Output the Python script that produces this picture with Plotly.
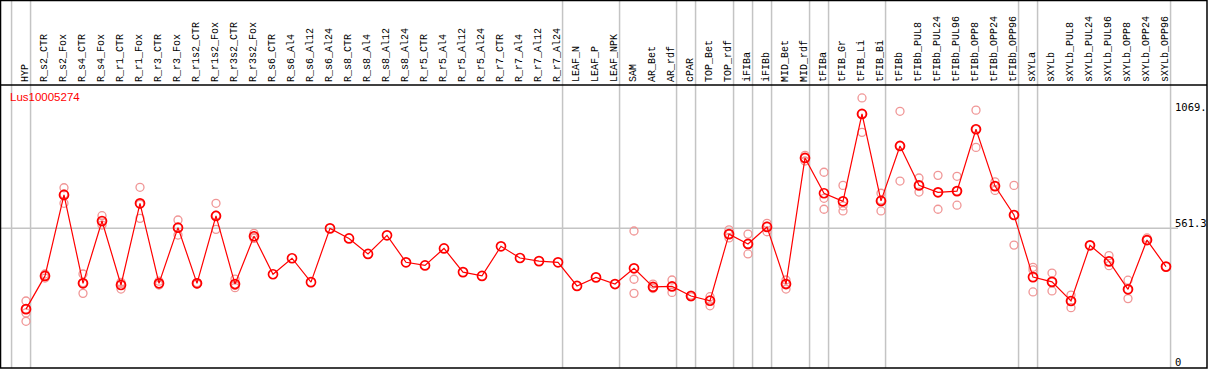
import plotly.graph_objects as go

title = "Lus10005274"

categories = ["HYP", "R_s2_CTR", "R_s2_Fox", "R_s4_CTR", "R_s4_Fox", "R_r1_CTR", "R_r1_Fox",
              "R_r3_CTR", "R_r3_Fox", "R_r1s2_CTR", "R_r1s2_Fox", "R_r3s2_CTR", "R_r3s2_Fox",
              "R_s6_CTR", "R_s6_Al4", "R_s6_Al12", "R_s6_Al24", "R_s8_CTR", "R_s8_Al4",
              "R_s8_Al12", "R_s8_Al24", "R_r5_CTR", "R_r5_Al4", "R_r5_Al12", "R_r5_Al24",
              "R_r7_CTR", "R_r7_Al4", "R_r7_Al12", "R_r7_Al24", "LEAF_N", "LEAF_P", "LEAF_NPK",
              "SAM", "AR_Bet", "AR_rdf", "cPAR", "TOP_Bet", "TOP_rdf", "iFIBa", "iFIBb",
              "MID_Bet", "MID_rdf", "tFIBa", "tFIB_Gr", "tFIB_Li", "tFIB_Bi", "tFIBb",
              "tFIBb_PUL8", "tFIBb_PUL24", "tFIBb_PUL96", "tFIBb_OPP8", "tFIBb_OPP24",
              "tFIBb_OPP96", "sXYLa", "sXYLb", "sXYLb_PUL8", "sXYLb_PUL24", "sXYLb_PUL96",
              "sXYLb_OPP8", "sXYLb_OPP24", "sXYLb_OPP96"]

means = [223, 362, 701, 331, 592, 324, 666, 331, 564, 331, 613, 328, 528,
         369, 436, 336, 561, 519, 454, 532, 419, 406, 477, 378, 362,
         486, 437, 424, 419, 320, 356, 328,
         394, 316, 318, 278, 258, 537, 496, 567, 328, 856,
         708, 674, 1040, 676, 906, 741, 712, 717, 976, 738, 617,
         357, 337, 257, 490, 423, 306, 512, 401]

replicates = [
    [257, 223, 207, 172], [370, 353, 362], [731, 666, 705], [370, 289, 334], [614, 575, 588],
    [335, 307, 330], [733, 603, 662], [340, 324, 330], [596, 533, 563], [334, 328, 331],
    [666, 557, 616], [349, 313, 322], [540, 519, 525],
    [], [], [], [], [], [], [], [], [], [], [], [], [], [], [], [], [], [], [],
    [550, 348, 289], [328, 309, 316], [345, 293, 318], [282, 274], [275, 237, 262],
    [555, 521, 537], [537, 454, 496], [582, 547, 570], [345, 307, 330], [867, 843, 856],
    [796, 687, 641], [741, 655, 634], [1107, 963, 1040], [708, 634, 680], [1051, 759, 906],
    [772, 713, 741], [783, 641, 712], [779, 658, 717], [1056, 900, 976], [756, 720, 738],
    [741, 491, 617], [398, 387, 295], [374, 299, 337], [282, 229, 257], [490],
    [447, 405, 423], [344, 267, 306], [521, 512], [401]]

# categories after which a group separator is drawn ("" = before the first)
group_ends = ["", "HYP", "R_r7_Al24", "LEAF_NPK", "AR_rdf", "cPAR", "TOP_rdf", "iFIBa",
              "iFIBb", "MID_rdf", "tFIBa", "tFIB_Bi", "tFIBb_OPP96", "sXYLa", "sXYLb_OPP96"]

y_ticks = [0, 561.3, 1069]
y_tick_labels = ["0", "561.3", "1069."]

x_idx = list(range(len(categories)))
rep_x, rep_y = [], []
for i, reps in enumerate(replicates):
    for v in reps:
        rep_x.append(i)
        rep_y.append(v)

fig = go.Figure()
fig.add_trace(go.Scatter(x=rep_x, y=rep_y, mode="markers",
                         marker=dict(symbol="circle-open", size=8, color="rgb(240,150,150)",
                                     line=dict(width=1.3, color="rgb(240,150,150)")),
                         hoverinfo="skip", showlegend=False))
fig.add_trace(go.Scatter(x=x_idx, y=means, mode="lines+markers",
                         line=dict(color="red", width=1.2),
                         marker=dict(symbol="circle-open", size=9, color="red",
                                     line=dict(width=1.7, color="red")),
                         showlegend=False))

shapes = []
for name in group_ends:
    xi = (categories.index(name) if name else -1) + 0.24
    shapes.append(dict(type="line", xref="x", yref="paper", x0=xi, x1=xi, y0=0, y1=1.3,
                       line=dict(color="#c4c4c4", width=1.5), layer="below"))
shapes.append(dict(type="line", xref="paper", yref="y", x0=0, x1=0.976, y0=y_ticks[1], y1=y_ticks[1],
                   line=dict(color="#c4c4c4", width=1.5), layer="below"))
# frame
shapes.append(dict(type="rect", xref="paper", yref="paper", x0=-0.0004, x1=1.0, y0=0, y1=1.2986,
                   line=dict(color="black", width=1.5)))
shapes.append(dict(type="line", xref="paper", yref="paper", x0=0, x1=1, y0=1, y1=1,
                   line=dict(color="black", width=1.5)))

annotations = []
for i, name in enumerate(categories):
    annotations.append(dict(x=i - 0.05, y=1, xref="x", yref="paper", text=name, showarrow=False,
                            textangle=-90, xanchor="center", yanchor="bottom", yshift=1,
                            font=dict(family="Liberation Mono", size=10, color="black")))
annotations.append(dict(x=0.0058, y=0.9576, xref="paper", yref="paper", text=title,
                        showarrow=False, xanchor="left", yanchor="middle",
                        font=dict(family="Liberation Sans", size=11.5, color="red")))
for v, lab in zip(y_ticks, y_tick_labels):
    annotations.append(dict(x=0.972, y=v, xref="paper", yref="y", text=lab, showarrow=False,
                            xanchor="left", yanchor="middle", yshift=5 if v == 561.3 else 0,
                            font=dict(family="DejaVu Sans Mono", size=10.5, color="black")))

fig.update_layout(
    width=1209, height=370,
    margin=dict(l=1, r=2, t=85, b=2),
    paper_bgcolor="white", plot_bgcolor="white",
    xaxis=dict(range=[-1.3158, 62.158], showgrid=False, zeroline=False, showticklabels=False,
               showline=False, ticks=""),
    yaxis=dict(range=[-23.44, 1161.2], showgrid=False, zeroline=False, showticklabels=False,
               showline=False, ticks=""),
    shapes=shapes, annotations=annotations,
)

fig.write_html("out.html", config={"displayModeBar": False},
               post_script="document.body.style.margin='0';document.body.style.overflow='hidden';")
